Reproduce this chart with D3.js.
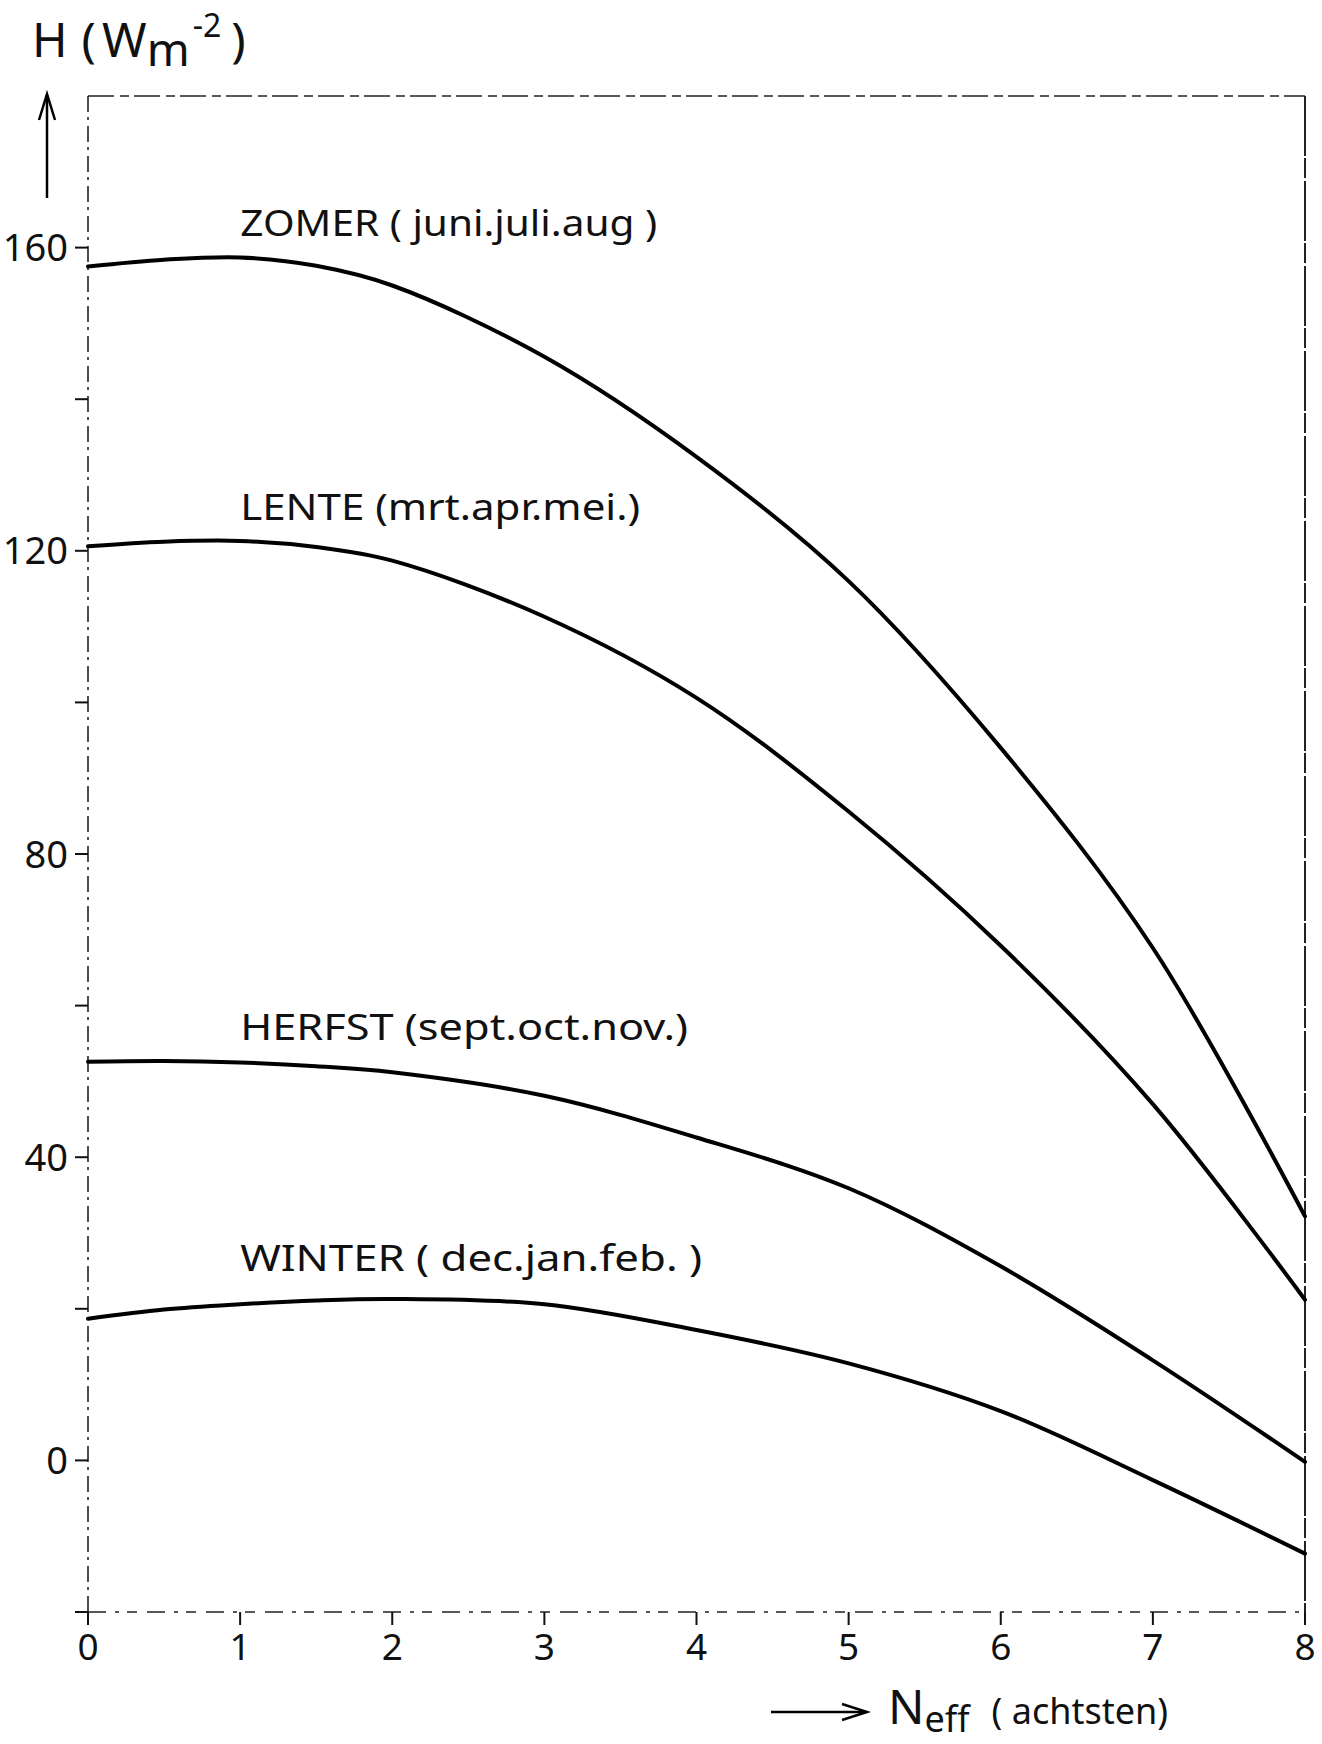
<!DOCTYPE html>
<html>
<head>
<meta charset="utf-8">
<script src="https://cdn.jsdelivr.net/npm/d3@7"></script>
<style>
  body { margin: 0; background: #fff; }
  svg text { font-family: "Noto Sans", "DejaVu Sans", sans-serif; fill: #111; }
</style>
</head>
<body>
<div id="chart"></div>
<script>
// N_eff in achtsten (eighths of cloud cover)
var nEff = [0, 0.5, 1, 1.5, 2, 3, 4, 5, 6, 7, 8];

// H in W m-2
var zomer  = [157.5, 158.4, 158.7, 157.6, 155.0, 145.6, 132.4, 116.0, 94.0, 67.6, 32.2];
var lente  = [120.6, 121.2, 121.3, 120.5, 118.7, 111.3, 100.6, 85.6, 67.9, 47.0, 21.2];
var herfst = [52.6, 52.7, 52.5, 52.0, 51.2, 48.1, 42.6, 35.9, 25.6, 13.2, -0.2];
var winter = [18.7, 19.9, 20.6, 21.1, 21.3, 20.6, 17.2, 12.8, 6.5, -2.6, -12.3];

var seasonLabels = [
  "ZOMER ( juni.juli.aug  )",
  "LENTE (mrt.apr.mei.)",
  "HERFST (sept.oct.nov.)",
  "WINTER ( dec.jan.feb. )"
];

var xTicks = [0, 1, 2, 3, 4, 5, 6, 7, 8];
var yTicks = [-20, 0, 20, 40, 60, 80, 100, 120, 140, 160];
var yTickLabels = [0, 40, 80, 120, 160];

var width = 1322;
var height = 1744;

var svg = d3.select("#chart")
  .append("svg")
  .attr("width", width)
  .attr("height", height);

var x = d3.scaleLinear().domain([0, 8]).range([88, 1305]);
var y = d3.scaleLinear().domain([-20, 180]).range([1612, 96]);

// frame (photocopied, broken lines)
var frame = svg.append("g")
  .attr("fill", "none")
  .attr("stroke", "#222")
  .attr("stroke-width", 1.6);

frame.append("line")
  .attr("x1", x(0)).attr("x2", x(0))
  .attr("y1", y(180)).attr("y2", y(-20) + 14)
  .attr("stroke-dasharray", "16,5,3,6");

frame.append("line")
  .attr("x1", x(0)).attr("x2", x(8))
  .attr("y1", y(180)).attr("y2", y(180))
  .attr("stroke-dasharray", "26,6,9,5");

frame.append("line")
  .attr("x1", x(8)).attr("x2", x(8))
  .attr("y1", y(180)).attr("y2", y(-20) + 14)
  .attr("stroke-width", 2)
  .attr("stroke-dasharray", "60,2,20,3");

frame.append("line")
  .attr("x1", x(0)).attr("x2", x(8))
  .attr("y1", y(-20)).attr("y2", y(-20))
  .attr("stroke-dasharray", "18,9,4,8,10,10");

// y ticks
svg.append("g").selectAll("line")
  .data(yTicks)
  .enter().append("line")
  .attr("x1", x(0) - 13).attr("x2", x(0))
  .attr("y1", d => y(d)).attr("y2", d => y(d))
  .attr("stroke", "#111")
  .attr("stroke-width", 2);

svg.append("g").selectAll("text")
  .data(yTickLabels)
  .enter().append("text")
  .attr("x", 68)
  .attr("y", d => y(d))
  .attr("dy", "0.36em")
  .attr("text-anchor", "end")
  .attr("font-size", 38)
  .text(d => d);

// x ticks
svg.append("g").selectAll("line")
  .data(xTicks)
  .enter().append("line")
  .attr("x1", d => x(d)).attr("x2", d => x(d))
  .attr("y1", y(-20)).attr("y2", y(-20) + 13)
  .attr("stroke", "#111")
  .attr("stroke-width", 2);

svg.append("g").selectAll("text")
  .data(xTicks)
  .enter().append("text")
  .attr("x", d => x(d))
  .attr("y", 1660)
  .attr("text-anchor", "middle")
  .attr("font-size", 37)
  .text(d => d);

// curves
var series = [zomer, lente, herfst, winter];

var line = d3.line()
  .x((d, i) => x(nEff[i]))
  .y(d => y(d))
  .curve(d3.curveCatmullRom.alpha(0.5));

svg.append("g").selectAll("path")
  .data(series)
  .enter().append("path")
  .attr("d", d => line(d))
  .attr("fill", "none")
  .attr("stroke", "#000")
  .attr("stroke-width", 4)
  .attr("stroke-linecap", "round");

// season labels, placed above each curve at N = 1
var labelDy = [-21, -21, -22, -33];
var labelLen = [417, 400, 448, 462];

svg.append("g").selectAll("text")
  .data(seasonLabels)
  .enter().append("text")
  .attr("x", x(1))
  .attr("y", (d, i) => y(series[i][2]) + labelDy[i])
  .attr("font-size", 37)
  .attr("textLength", (d, i) => labelLen[i])
  .attr("lengthAdjust", "spacingAndGlyphs")
  .text(d => d);

// y axis title: H (W m-2) with arrow
var title = svg.append("text")
  .attr("x", 32)
  .attr("y", 57)
  .attr("font-size", 48);
title.append("tspan").text("H");
title.append("tspan").attr("dx", 14).text("(");
title.append("tspan").attr("dx", 6).text("W");
title.append("tspan").attr("dy", 9).attr("font-size", 46).text("m");
title.append("tspan").attr("dy", -29).attr("dx", 3).attr("font-size", 32).text("-2");
title.append("tspan").attr("dy", 20).attr("dx", 10).text(")");

var arrows = svg.append("g")
  .attr("fill", "none")
  .attr("stroke", "#000")
  .attr("stroke-width", 2.5);

arrows.append("line")
  .attr("x1", 47).attr("x2", 47)
  .attr("y1", 198).attr("y2", 95);
arrows.append("path")
  .attr("d", "M39,120 L47,94 L55,120");

// x axis title
arrows.append("line")
  .attr("x1", 771).attr("x2", 866)
  .attr("y1", 1712).attr("y2", 1712);
arrows.append("path")
  .attr("d", "M842,1704 L867,1712 L842,1720");

var xTitle = svg.append("text")
  .attr("x", 888)
  .attr("y", 1724)
  .attr("font-size", 48);
xTitle.append("tspan").text("N");
xTitle.append("tspan").attr("dy", 8).attr("font-size", 36).text("eff");
xTitle.append("tspan").attr("dy", -8).attr("dx", 22).attr("font-size", 36).text("( achtsten)");
</script>
</body>
</html>
